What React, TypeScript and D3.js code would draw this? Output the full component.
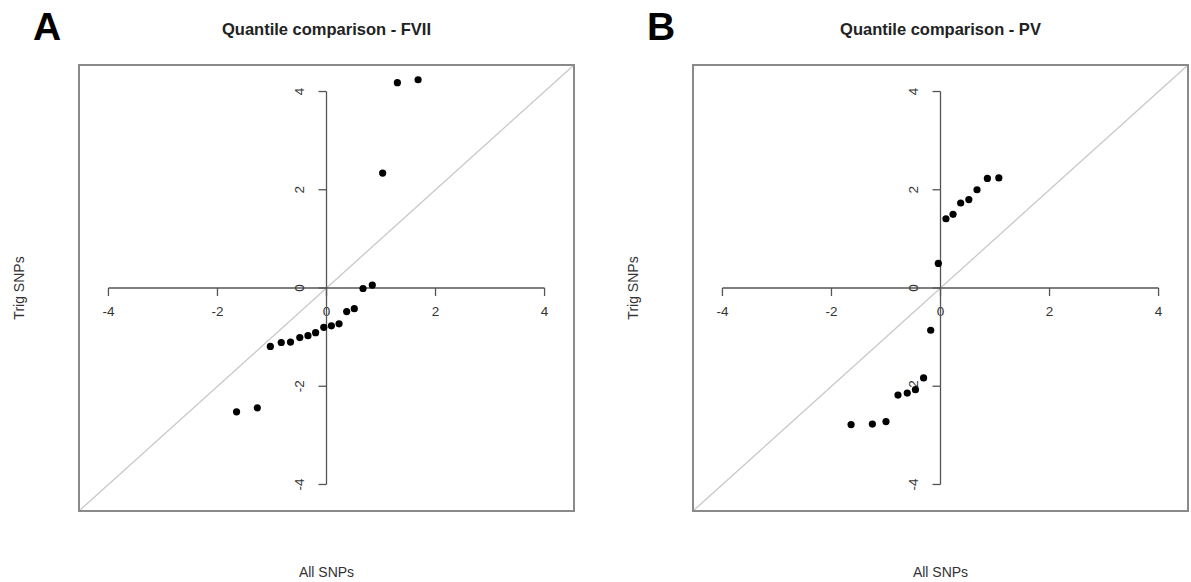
import * as d3 from "d3";

// quantiles: All SNPs (x) vs Trig SNPs (y)
const fviiAll = [-1.65, -1.27, -1.03, -0.83, -0.66, -0.49, -0.34, -0.2, -0.05, 0.09, 0.23, 0.37, 0.51, 0.67, 0.84, 1.03, 1.3, 1.68];
const fviiTrig = [-2.52, -2.44, -1.19, -1.11, -1.1, -1.01, -0.97, -0.91, -0.8, -0.77, -0.73, -0.48, -0.42, -0.01, 0.06, 2.34, 4.18, 4.24];

const pvAll = [-1.64, -1.25, -1.0, -0.78, -0.61, -0.46, -0.31, -0.18, -0.04, 0.1, 0.23, 0.37, 0.52, 0.67, 0.86, 1.07];
const pvTrig = [-2.78, -2.77, -2.72, -2.18, -2.14, -2.07, -1.83, -0.86, 0.5, 1.41, 1.5, 1.73, 1.8, 2.0, 2.23, 2.24];

const tickValues = [-4, -2, 0, 2, 4];
const axisLimit = 4.54;

const FONT = "'Liberation Sans', Arial, sans-serif";

type PanelProps = {
  letter: string;
  title: string;
  xs: number[];
  ys: number[];
  left: number;
};

function Panel({ letter, title, xs, ys, left }: PanelProps) {
  const boxW = 495;
  const top = 65;
  const boxH = 446;
  const x = d3.scaleLinear().domain([-axisLimit, axisLimit]).range([left, left + boxW]);
  const y = d3.scaleLinear().domain([-axisLimit, axisLimit]).range([top + boxH, top]);
  const cx = (left + left + boxW) / 2;
  const x0 = x(0);
  const y0 = y(0);
  const axisCol = "#555";
  const textCol = "#333";

  return (
    <g>
      <text x={left - 46} y={40} fontFamily={FONT} fontWeight="bold" fontSize={39} fill="#000">
        {letter}
      </text>
      <text x={cx} y={35} textAnchor="middle" fontFamily={FONT} fontWeight="bold" fontSize={16.5} fill="#222">
        {title}
      </text>

      {/* identity line */}
      <line x1={x(-axisLimit)} y1={y(-axisLimit)} x2={x(axisLimit)} y2={y(axisLimit)} stroke="#c8c8c8" strokeWidth={1.3} />

      {/* x axis through origin */}
      <line x1={x(-4)} x2={x(4)} y1={y0} y2={y0} stroke={axisCol} strokeWidth={1.3} />
      {tickValues.map((t) => (
        <g key={"x" + t}>
          <line x1={x(t)} x2={x(t)} y1={y0} y2={y0 + 8} stroke={axisCol} strokeWidth={1.3} />
          <text x={x(t)} y={y0 + 28} textAnchor="middle" fontFamily={FONT} fontSize={13.5} fill={textCol}>
            {t}
          </text>
        </g>
      ))}

      {/* y axis through origin */}
      <line x1={x0} x2={x0} y1={y(-4)} y2={y(4)} stroke={axisCol} strokeWidth={1.3} />
      {tickValues.map((t) => (
        <g key={"y" + t}>
          <line x1={x0 - 8} x2={x0} y1={y(t)} y2={y(t)} stroke={axisCol} strokeWidth={1.3} />
          <text
            transform={`translate(${x0 - 23},${y(t)}) rotate(-90)`}
            textAnchor="middle"
            fontFamily={FONT}
            fontSize={13.5}
            fill={textCol}
          >
            {t}
          </text>
        </g>
      ))}

      {xs.map((v, i) => (
        <circle key={i} cx={x(v)} cy={y(ys[i])} r={3.6} fill="#000" />
      ))}

      <rect x={left} y={top} width={boxW} height={boxH} fill="none" stroke="#8a8a8a" strokeWidth={2} />

      <text
        transform={`translate(${left - 55},${y0}) rotate(-90)`}
        textAnchor="middle"
        fontFamily={FONT}
        fontSize={14}
        fill={textCol}
      >
        Trig SNPs
      </text>
      <text x={cx} y={577} textAnchor="middle" fontFamily={FONT} fontSize={14} fill={textCol}>
        All SNPs
      </text>
    </g>
  );
}

export default function App() {
  return (
    <svg
      width={1191}
      height={582}
      style={{ position: "absolute", left: 0, top: 0, background: "#fff" }}
    >
      <Panel letter="A" title="Quantile comparison - FVII" xs={fviiAll} ys={fviiTrig} left={79} />
      <Panel letter="B" title="Quantile comparison - PV" xs={pvAll} ys={pvTrig} left={693} />
    </svg>
  );
}
